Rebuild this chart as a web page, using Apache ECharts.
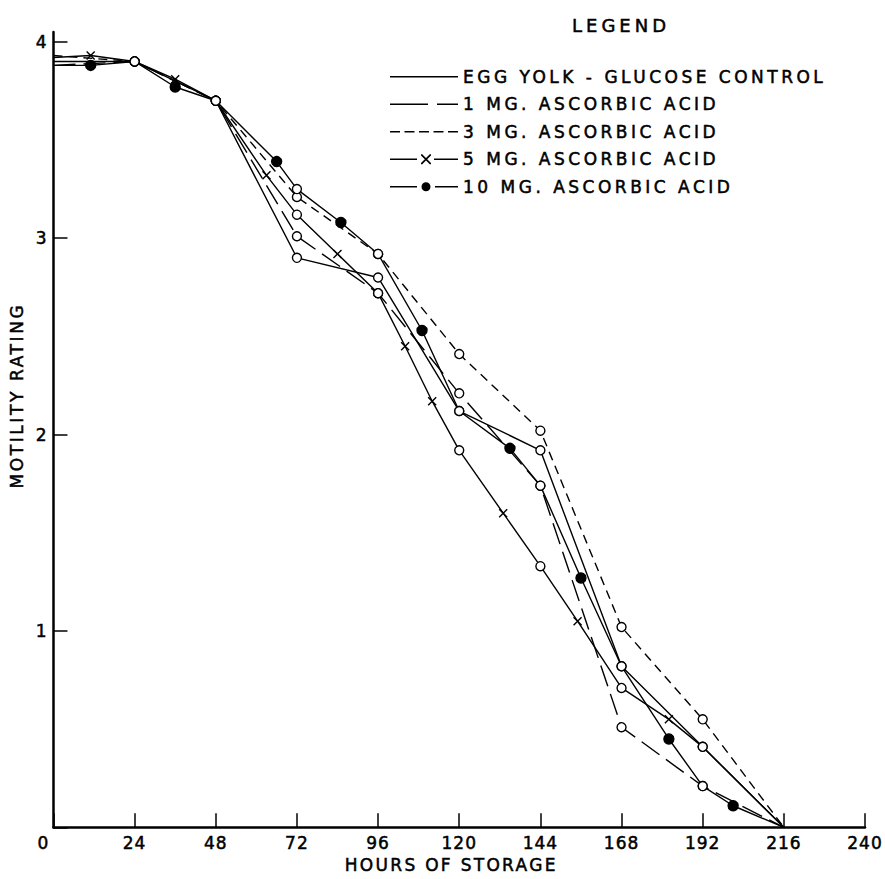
<!DOCTYPE html>
<html>
<head>
<meta charset="utf-8">
<script src="https://cdn.jsdelivr.net/npm/echarts@6/dist/echarts.min.js"></script>
<style>
html,body{margin:0;padding:0;background:#fff;}
#chart{width:885px;height:879px;}
/* hand-lettered look: widen the lettering per text group */
#chart text[style*="lgA"], #chart text[font-family*="lgA"]{letter-spacing:3.5px;}
#chart text[style*="ttlA"], #chart text[font-family*="ttlA"]{letter-spacing:4px;}
#chart text[style*="xnA"], #chart text[font-family*="xnA"]{letter-spacing:2.3px;}
#chart text[style*="ynA"], #chart text[font-family*="ynA"]{letter-spacing:2.6px;}
#chart text[style*="tkA"], #chart text[font-family*="tkA"]{letter-spacing:1px;}
</style>
</head>
<body>
<div id="chart"></div>
<script>
// ---- data ----
const seriesNames = [
  'EGG YOLK - GLUCOSE CONTROL',
  '1 MG. ASCORBIC ACID',
  '3 MG. ASCORBIC ACID',
  '5 MG. ASCORBIC ACID',
  '10 MG. ASCORBIC ACID'
];
const controlHours = [0, 24, 48, 72, 96, 120, 144, 168, 192, 216];
const controlValues = [3.90, 3.90, 3.70, 2.90, 2.80, 2.12, 1.92, 0.82, 0.41, 0];

const mg1Hours = [0, 24, 48, 72, 96, 120, 144, 168, 192, 216];
const mg1Values = [3.88, 3.90, 3.70, 3.01, 2.72, 2.21, 1.74, 0.51, 0.21, 0];

const mg3Hours = [0, 24, 48, 72, 96, 120, 144, 168, 192, 216];
const mg3Values = [3.93, 3.90, 3.70, 3.21, 2.92, 2.41, 2.02, 1.02, 0.55, 0];

const mg5Hours = [0, 11, 24, 36, 48, 63, 72, 84, 96, 104, 112, 120, 133, 144, 155, 168, 182, 192, 216];
const mg5Values = [3.92, 3.93, 3.90, 3.81, 3.70, 3.32, 3.12, 2.92, 2.72, 2.45, 2.17, 1.92, 1.60, 1.33, 1.05, 0.71, 0.55, 0.41, 0];

const mg10Hours = [0, 11, 24, 36, 48, 66, 72, 85, 96, 109, 120, 135, 144, 156, 168, 182, 192, 201, 216];
const mg10Values = [3.88, 3.88, 3.90, 3.77, 3.70, 3.39, 3.25, 3.08, 2.92, 2.53, 2.12, 1.93, 1.74, 1.27, 0.82, 0.45, 0.21, 0.11, 0];

const xTickLabels = [0, 24, 48, 72, 96, 120, 144, 168, 192, 216, 240];
const yTickLabels = [1, 2, 3, 4];
const yTickValues = [0, 1, 2, 3, 4];

// ---- styling ----
const INK = '#000';
const F_LEG = 'DejaVu Sans, lgA';
const F_TTL = 'DejaVu Sans, ttlA';
const F_XN = 'DejaVu Sans, xnA';
const F_YN = 'DejaVu Sans, ynA';
const F_TK = 'DejaVu Sans, tkA';
const X_PATH = 'path://M0,0L10,10M10,0L0,10';
const HEAVY = { textBorderColor: INK, textBorderWidth: 0.5 };

function isCommon(h) { return h % 24 === 0; }
function isEnd(h) { return h === 0 || h === 216; }

function plainData(hours, values) {
  return hours.map((h, i) => ({
    value: [h, values[i]],
    symbol: isEnd(h) ? 'none' : 'circle'
  }));
}
function markedData(hours, values, kind) {
  return hours.map((h, i) => {
    const d = { value: [h, values[i]] };
    if (isEnd(h)) d.symbol = 'none';
    else if (isCommon(h)) d.symbol = 'circle';
    else if (kind === 'x') { d.symbol = X_PATH; d.symbolSize = 8; }
    else { d.symbol = 'circle'; d.symbolSize = 10; d.itemStyle = { color: INK }; }
    return d;
  });
}

const baseItem = { color: '#fff', borderColor: INK, borderWidth: 1.4 };

function lineSeries(name, data, type) {
  return {
    name, type: 'line', data,
    symbolSize: 9,
    showAllSymbol: true,
    lineStyle: { color: INK, width: 1.4, type: type },
    itemStyle: baseItem,
    emphasis: { disabled: true },
    animation: false
  };
}

const legendIcons = [
  'path://M0,0H68V1.4H0Z',
  'path://M0,0H38V1.6H0Z M47,0H68V1.6H47Z',
  'path://M0,0H10V1.5H0Z M14.5,0H24.5V1.5H14.5Z M29,0H39V1.5H29Z M43.5,0H53.5V1.5H43.5Z M58,0H68V1.5H58Z',
  'path://M0,4.3H27V5.7H0Z M44,4.3H68V5.7H44Z M31,0L32.2,0L41,8.8L41,10L39.8,10L31,1.2Z M41,0L41,1.2L32.2,10L31,10L31,8.8L39.8,0Z',
  'path://M0,4.3H27V5.7H0Z M45,4.3H68V5.7H45Z M31.5,5A4.5,4.5 0 1,0 40.5,5A4.5,4.5 0 1,0 31.5,5Z'
];

const chart = echarts.init(document.getElementById('chart'), null, { renderer: 'svg' });
chart.setOption({
  backgroundColor: '#fff',
  animation: false,
  title: {
    text: 'LEGEND',
    left: 567, top: 11,
    textStyle: Object.assign({ fontFamily: F_TTL, fontSize: 18, fontWeight: 'normal', color: INK }, HEAVY)
  },
  legend: {
    orient: 'vertical',
    left: 385, top: 63,
    itemWidth: 68, itemHeight: 12, itemGap: 10,
    symbolKeepAspect: true,
    selectedMode: false,
    textStyle: Object.assign({ fontFamily: F_LEG, fontSize: 17, lineHeight: 17, color: INK }, HEAVY),
    data: seriesNames.map((n, i) => ({
      name: n, icon: legendIcons[i],
      itemStyle: { color: INK, borderWidth: 0, opacity: 1 }
    }))
  },
  grid: { left: 48, right: 20, top: 32, bottom: 42 },
  xAxis: {
    type: 'value', min: 0, max: 240, interval: 24,
    name: 'HOURS OF STORAGE', nameLocation: 'middle', nameGap: 21,
    nameTextStyle: Object.assign({ fontFamily: F_XN, fontSize: 17, color: INK, padding: [0, 16, 0, 0] }, HEAVY),
    axisLine: { show: true, onZero: false, lineStyle: { color: INK, width: 2.5 } },
    axisTick: { show: true, inside: true, length: 14, lineStyle: { color: INK, width: 1.5 } },
    axisLabel: Object.assign({
      fontFamily: F_TK, fontSize: 17, color: INK, margin: 7,
      showMinLabel: true, showMaxLabel: true,
      formatter: v => (v === 0 ? '{z|0}' : (xTickLabels.indexOf(v) >= 0 ? String(v) : '')),
      rich: { z: Object.assign({ fontFamily: F_TK, fontSize: 17, color: INK, padding: [0, 20, 10, 0] }, HEAVY) }
    }, HEAVY),
    splitLine: { show: false }
  },
  yAxis: {
    type: 'value', min: 0, max: 4.05, interval: 1,
    name: 'MOTILITY RATING', nameLocation: 'middle', nameGap: 22,
    nameTextStyle: Object.assign({ fontFamily: F_YN, fontSize: 17, color: INK, padding: [0, 0, 0, 68] }, HEAVY),
    axisLine: { show: true, lineStyle: { color: INK, width: 2.5 } },
    axisTick: { show: true, inside: true, length: 14, customValues: yTickValues, lineStyle: { color: INK, width: 1.5 } },
    axisLabel: Object.assign({
      fontFamily: F_TK, fontSize: 17, color: INK, margin: 6,
      customValues: yTickLabels,
      formatter: v => (yTickLabels.indexOf(v) >= 0 ? String(v) : '')
    }, HEAVY),
    splitLine: { show: false }
  },
  series: [
    lineSeries(seriesNames[0], plainData(controlHours, controlValues), 'solid'),
    lineSeries(seriesNames[1], plainData(mg1Hours, mg1Values), [22, 8]),
    lineSeries(seriesNames[2], plainData(mg3Hours, mg3Values), [9, 6]),
    lineSeries(seriesNames[3], markedData(mg5Hours, mg5Values, 'x'), 'solid'),
    lineSeries(seriesNames[4], markedData(mg10Hours, mg10Values, 'dot'), 'solid')
  ]
});
</script>
</body>
</html>
